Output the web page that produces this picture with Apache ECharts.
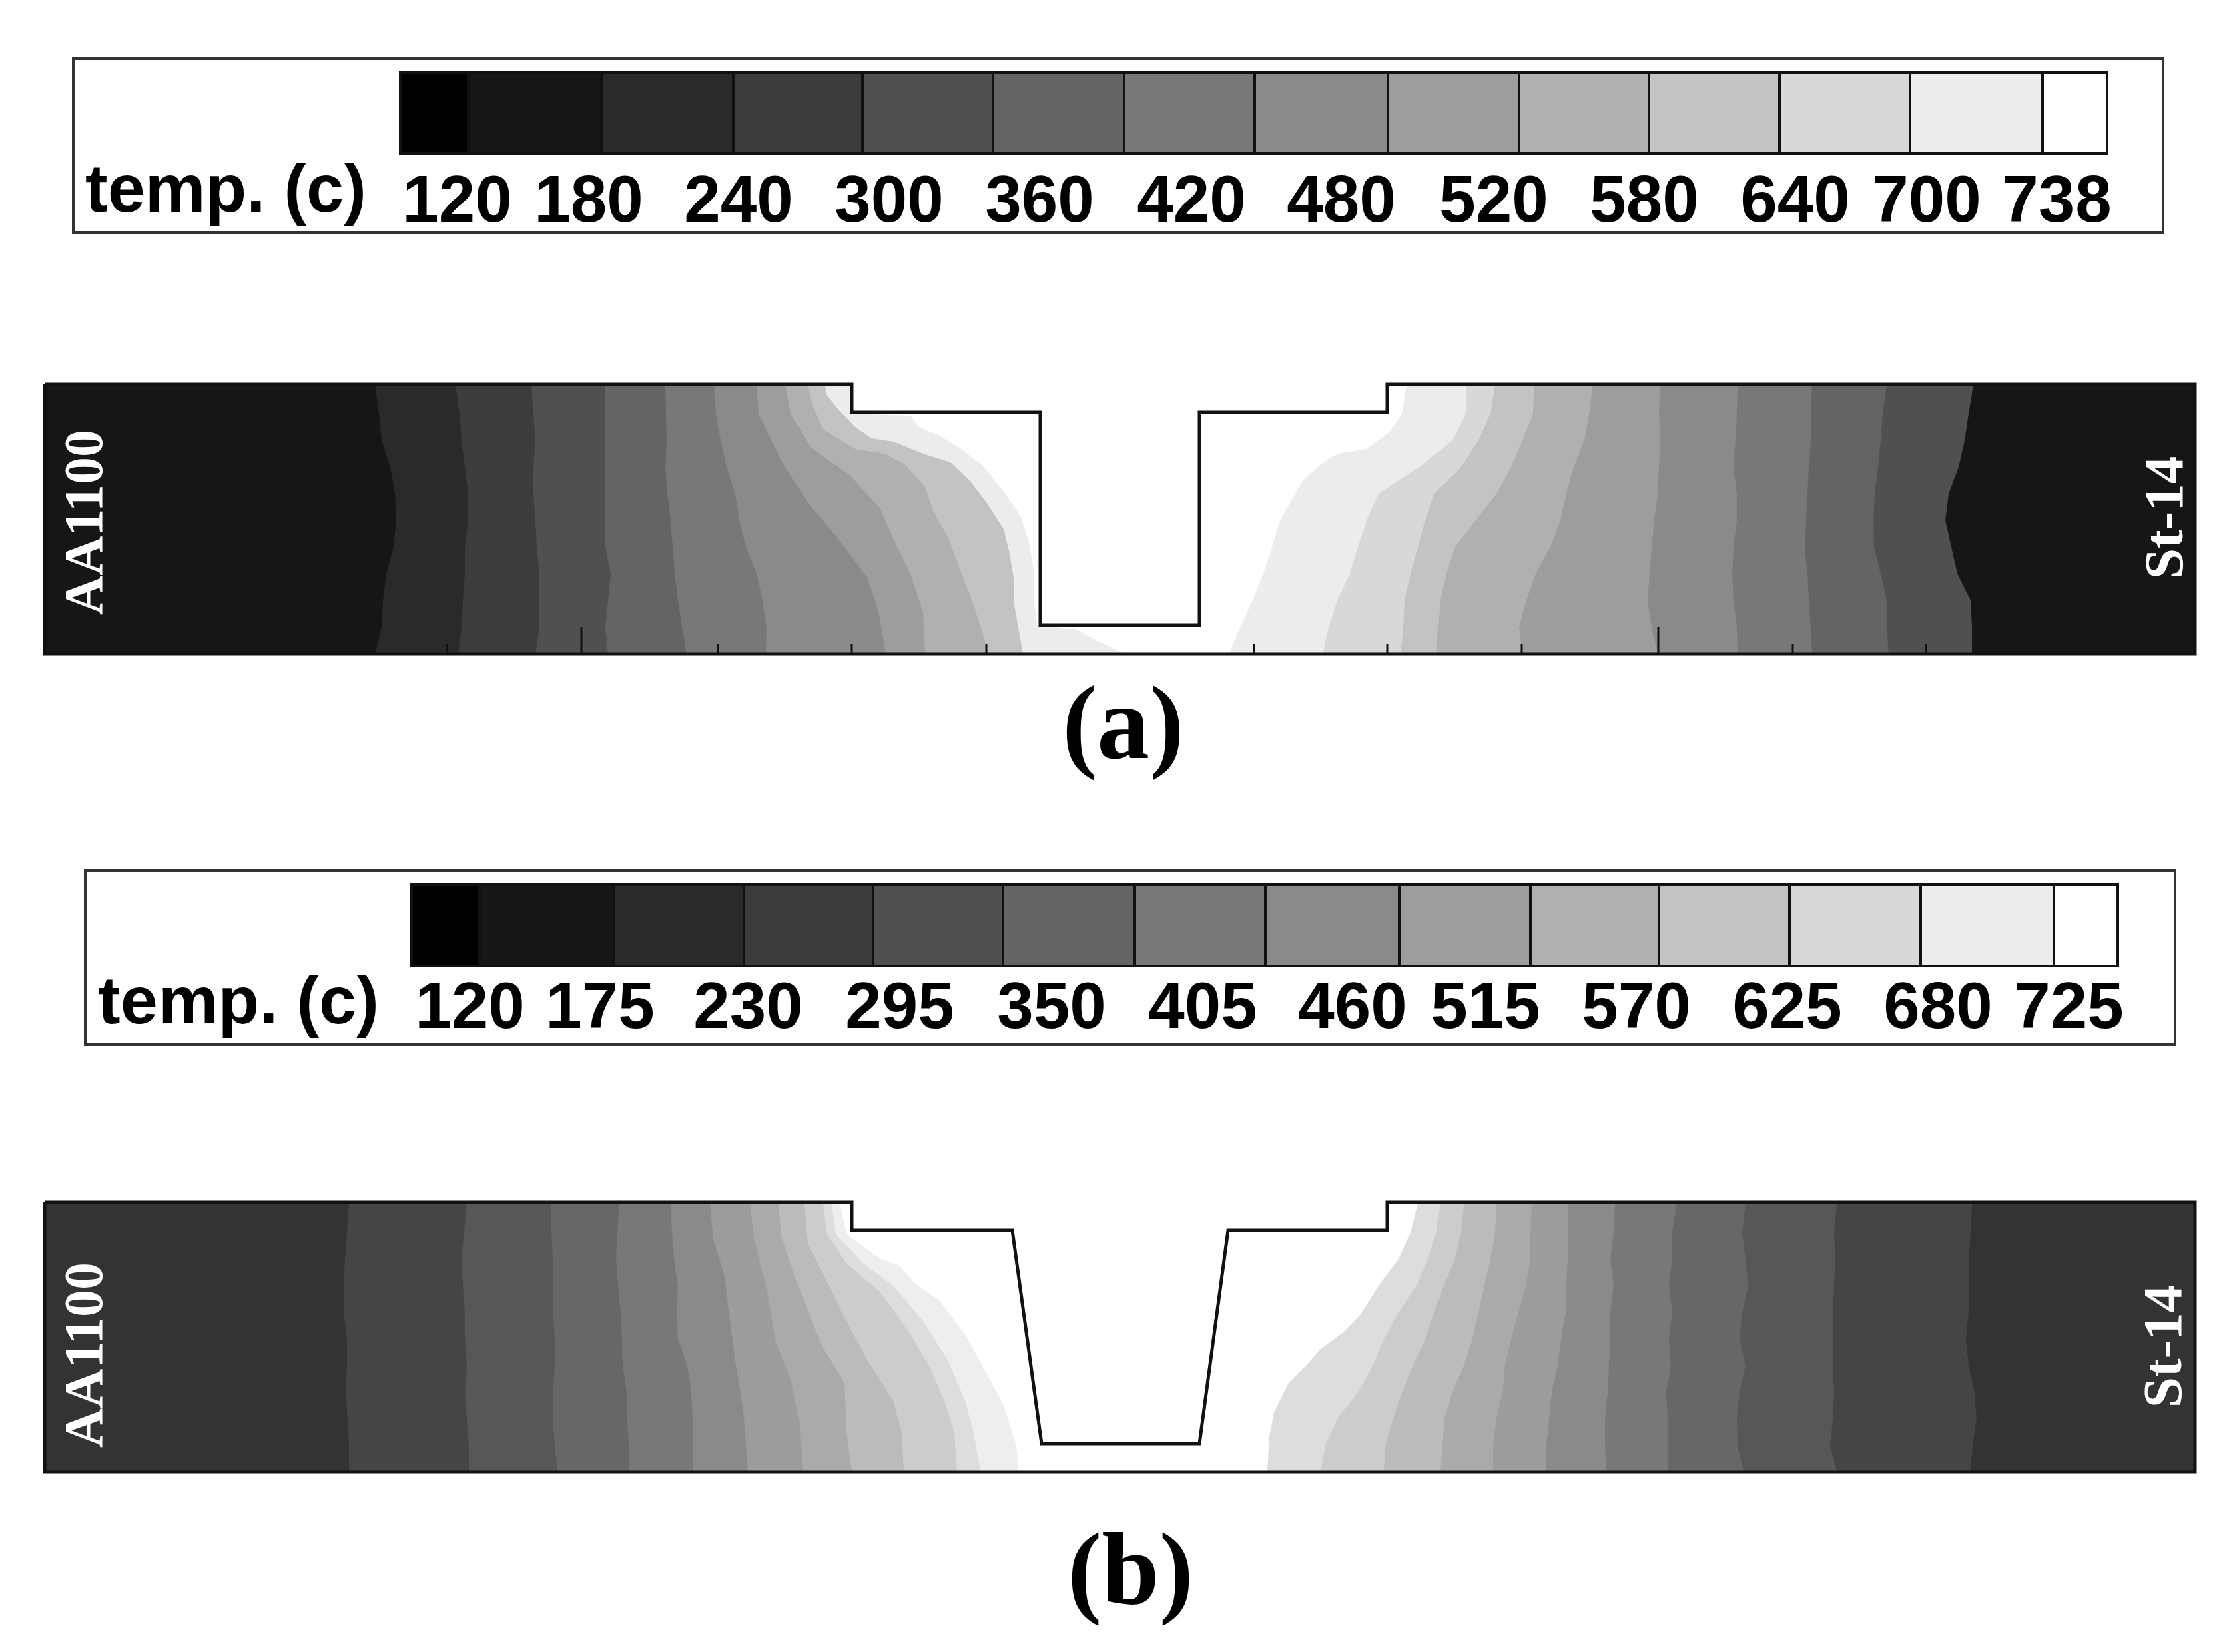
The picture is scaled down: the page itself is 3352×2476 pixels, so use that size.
<!DOCTYPE html>
<html>
<head>
<meta charset="utf-8">
<title>temp. (c)</title>
<style>html,body{margin:0;padding:0;background:#fff}#main{width:3352px;height:2476px}</style>
</head>
<body>
<div id="main"></div>
<script src="https://cdn.jsdelivr.net/npm/echarts@6/dist/echarts.min.js"></script>
<script>
// legend scales
var legendColors = ['#000000','#161616','#2a2a2a','#3c3c3c','#505050','#646464','#787878','#8a8a8a','#9d9d9d','#b0b0b0','#c3c3c3','#d8d8d8','#ececec','#ffffff'];
var aLegendTicks = ['120','180','240','300','360','420','480','520','580','640','700','738'];
var bLegendTicks = ['120','175','230','295','350','405','460','515','570','625','680','725'];
var aLegendTickX = [685,882,1107,1332,1558,1785,2010,2238,2464,2690,2887,3082];
var bLegendTickX = [704,899,1121,1348,1576,1802,2027,2226,2452,2678,2904,3100];
var aLegendEdges = [600,702,901,1099,1292,1488,1684,1880,2080,2276,2471,2666,2862,3061,3157];
var bLegendEdges = [617,719,920,1115,1308,1503,1700,1896,2097,2293,2486,2681,2878,3078,3173];

// part outlines
var aOutline = [[67,576],[1276,576],[1276,618],[1559,618],[1559,937],[1797,937],[1797,618],[2079,618],[2079,576],[3289,576],[3289,980],[67,980],[67,576]];
var bOutline = [[67,1802],[1276,1802],[1276,1844],[1517,1844],[1561,2164],[1797,2164],[1840,1844],[2079,1844],[2079,1802],[3289,1802],[3289,2206],[67,2206],[67,1802]];

// ruler ticks along the lower edge of (a)
var aTicksShort = [670,1076,1276,1478,1879,2079,2280,2686,2886];
var aTicksTall = [871,2485];

// isotherm stations (height)
var aY = [577,620,660,700,740,780,820,860,900,940,980];
var bY = [1804,1847,1887,1927,1967,2007,2047,2087,2127,2167,2204];

// (a) left of the tool
var aLeftColors = ['#161616','#2a2a2a','#3c3c3c','#505050','#646464','#787878','#8a8a8a','#9d9d9d','#b0b0b0','#c3c3c3','#ececec'];
var aL1 = [562,568,572,585,592,594,590,579,574,572,562];
var aL2 = [683,689,692,697,702,702,697,697,694,692,687];
var aL3 = [796,799,802,799,799,802,804,808,808,808,802];
var aL4 = [907,907,907,907,907,906,907,915,911,907,911];
var aL5 = [997,998,999,997,1000,1005,1008,1011,1016,1022,1029];
var aL6 = [1070,1073,1080,1089,1102,1108,1118,1134,1143,1149,1148];
var aL7 = [[1134,577],[1137,620],[1172,693],[1210,753],[1255,807],[1300,867],[1316,917],[1327,980]];
var aL8 = [[1177,577],[1185,620],[1214,670],[1274,713],[1319,763],[1338,807],[1364,860],[1383,917],[1386,980]];
var aL9 = [[1210,577],[1217,607],[1233,643],[1281,673],[1325,680],[1357,697],[1386,730],[1399,767],[1421,807],[1440,857],[1459,907],[1482,980]];
var aL10 = [[1236,577],[1237,590],[1255,613],[1281,640],[1306,657],[1338,662],[1383,680],[1424,693],[1453,720],[1478,753],[1504,793],[1513,830],[1520,873],[1520,907],[1533,980]];
var aL11 = [[1276,577],[1276,620],[1364,623],[1376,640],[1408,653],[1440,673],[1472,697],[1504,737],[1529,773],[1542,813],[1550,860],[1550,907],[1555,938],[1612,943],[1644,960],[1679,977],[1679,980]];

// (a) right of the tool
var aRightColors = ['#161616','#505050','#646464','#787878','#8a8a8a','#9d9d9d','#b0b0b0','#c3c3c3','#d8d8d8','#ececec'];
var aR1 = [2957,2950,2944,2935,2920,2915,2924,2933,2953,2955,2955];
var aR2 = [2827,2821,2818,2814,2809,2807,2808,2818,2827,2827,2830];
var aR3 = [2715,2713,2713,2710,2708,2706,2704,2708,2710,2713,2715];
var aR4 = [2604,2603,2601,2598,2603,2603,2598,2596,2598,2603,2604];
var aR5 = [2488,2486,2488,2486,2484,2479,2475,2472,2469,2475,2484];
var aR6 = [2387,2381,2374,2358,2347,2338,2323,2301,2287,2276,2281];
var aR7 = [2299,2297,2281,2264,2242,2211,2180,2167,2158,2155,2152];
var aR8 = [2240,2233,2215,2189,2149,2136,2125,2114,2105,2103,2099];
var aR9 = [2196,2196,2176,2127,2066,2048,2035,2023,2004,1991,1982];
var aR10 = [[2108,577],[2101,620],[2083,647],[2048,673],[2004,680],[1978,697],[1950,723],[1941,740],[1918,780],[1906,820],[1893,860],[1877,900],[1858,940],[1842,980]];

// (b) left of the tool
var bLeftColors = ['#333333','#454545','#575757','#676767','#787878','#8a8a8a','#9c9c9c','#aaaaaa','#bbbbbb','#cccccc','#dddddd','#eeeeee'];
var bL1 = [523,520,517,515,515,520,520,518,521,523,523];
var bL2 = [699,696,692,694,697,697,700,697,700,703,703];
var bL3 = [826,826,828,828,828,831,831,828,828,831,835];
var bL4 = [928,925,923,926,930,932,933,939,940,942,942];
var bL5 = [1005,1007,1010,1016,1014,1016,1030,1036,1038,1038,1038];
var bL6 = [[1064,1804],[1069,1857],[1086,1913],[1094,1980],[1102,2040],[1114,2113],[1121,2204]];
var bL7 = [[1124,1804],[1131,1860],[1150,1937],[1163,2013],[1185,2067],[1198,2133],[1203,2204]];
var bL8 = [[1167,1804],[1171,1853],[1191,1913],[1220,1990],[1233,2020],[1265,2073],[1268,2147],[1276,2204]];
var bL9 = [[1205,1804],[1210,1863],[1230,1903],[1261,1967],[1300,2040],[1338,2100],[1351,2147],[1354,2204]];
var bL10 = [[1233,1804],[1239,1850],[1268,1893],[1319,1937],[1364,2000],[1395,2053],[1415,2100],[1430,2147],[1434,2204]];
var bL11 = [[1246,1804],[1252,1850],[1293,1893],[1338,1927],[1383,1980],[1421,2040],[1446,2100],[1459,2147],[1469,2204]];
var bL12 = [[1258,1804],[1268,1850],[1319,1887],[1348,1897],[1370,1923],[1408,1950],[1446,2000],[1472,2047],[1504,2107],[1523,2167],[1526,2204]];

// (b) right of the tool
var bRightColors = ['#333333','#454545','#575757','#676767','#787878','#8a8a8a','#9c9c9c','#aaaaaa','#bbbbbb','#cccccc','#dddddd'];
var bR1 = [2955,2953,2950,2950,2950,2946,2950,2959,2962,2956,2953];
var bR2 = [2752,2748,2750,2748,2746,2746,2746,2748,2746,2742,2752];
var bR3 = [2616,2611,2616,2620,2611,2607,2616,2607,2603,2604,2613];
var bR4 = [2513,2506,2506,2501,2506,2501,2504,2497,2499,2499,2499];
var bR5 = [2420,2418,2413,2418,2413,2413,2411,2409,2405,2405,2407];
var bR6 = [2350,2349,2349,2347,2346,2339,2334,2325,2321,2317,2317];
var bR7 = [2295,2293,2293,2286,2275,2264,2255,2251,2242,2237,2237];
var bR8 = [2242,2240,2233,2224,2215,2206,2193,2176,2164,2161,2158];
var bR9 = [2193,2189,2180,2163,2149,2136,2118,2101,2088,2076,2074];
var bR10 = [2158,2152,2140,2123,2096,2074,2057,2035,2004,1986,1979];
var bR11 = [[2125,1804],[2114,1847],[2096,1887],[2066,1927],[2039,1970],[2013,1997],[1978,2023],[1957,2047],[1931,2073],[1909,2117],[1902,2153],[1899,2204]];

function withY(xs, ys) {
    return xs.map(function (x, i) { return [x, ys[i]]; });
}

var aLeftLines = [aL1,aL2,aL3,aL4,aL5,aL6].map(function (l) { return withY(l, aY); }).concat([aL7,aL8,aL9,aL10,aL11]);
var aRightLines = [aR1,aR2,aR3,aR4,aR5,aR6,aR7,aR8,aR9].map(function (l) { return withY(l, aY); }).concat([aR10]);
var bLeftLines = [bL1,bL2,bL3,bL4,bL5].map(function (l) { return withY(l, bY); }).concat([bL6,bL7,bL8,bL9,bL10,bL11,bL12]);
var bRightLines = [bR1,bR2,bR3,bR4,bR5,bR6,bR7,bR8,bR9,bR10].map(function (l) { return withY(l, bY); }).concat([bR11]);

// every band is filled from the plate edge up to its isotherm, lightest first
function bandSeries(gridIndex, lines, colors, edgeX, z) {
    return {
        type: 'custom',
        xAxisIndex: gridIndex,
        yAxisIndex: gridIndex,
        z: z,
        silent: true,
        data: lines.map(function (l, i) { return [lines.length - 1 - i]; }),
        renderItem: function (params, api) {
            var k = api.value(0);
            var line = lines[k];
            var pts = [[edgeX, line[0][1]]].concat(line, [[edgeX, line[line.length - 1][1]]]);
            return {
                type: 'polygon',
                shape: { points: pts.map(function (p) { return api.coord(p); }) },
                style: { fill: colors[k] }
            };
        }
    };
}

function outlineSeries(gridIndex, points) {
    return {
        type: 'line',
        xAxisIndex: gridIndex,
        yAxisIndex: gridIndex,
        z: 5,
        silent: true,
        symbol: 'none',
        data: points,
        lineStyle: { color: '#111111', width: 5, join: 'miter' }
    };
}

function tickSeries(gridIndex, xs, bottom, len) {
    return {
        type: 'custom',
        xAxisIndex: gridIndex,
        yAxisIndex: gridIndex,
        z: 6,
        silent: true,
        data: xs.map(function (x) { return [x]; }),
        renderItem: function (params, api) {
            var p0 = api.coord([api.value(0), bottom]);
            var p1 = api.coord([api.value(0), bottom - len]);
            return {
                type: 'line',
                shape: { x1: p0[0], y1: p0[1], x2: p1[0], y2: p1[1] },
                style: { stroke: '#111111', lineWidth: 3 }
            };
        }
    };
}

function legendCells(gridIndex, edges, top, bottom) {
    return {
        type: 'custom',
        xAxisIndex: gridIndex,
        yAxisIndex: gridIndex,
        z: 3,
        silent: true,
        data: legendColors.map(function (c, i) { return [edges[i], edges[i + 1]]; }),
        renderItem: function (params, api) {
            var p0 = api.coord([api.value(0), top]);
            var p1 = api.coord([api.value(1), bottom]);
            return {
                type: 'rect',
                shape: { x: p0[0], y: p0[1], width: p1[0] - p0[0], height: p1[1] - p0[1] },
                style: { fill: legendColors[params.dataIndex], stroke: '#111111', lineWidth: 4 }
            };
        }
    };
}

function textSeries(gridIndex, items, font) {
    return {
        type: 'scatter',
        xAxisIndex: gridIndex,
        yAxisIndex: gridIndex,
        z: 8,
        silent: true,
        symbolSize: 0,
        itemStyle: { opacity: 1 },
        data: items.map(function (t) {
            return {
                value: [t.x, t.y],
                label: {
                    show: true, position: 'inside', formatter: t.text, rotate: t.rotate || 0,
                    color: t.color || '#000000', align: t.align || 'center', verticalAlign: 'middle',
                    fontFamily: font, fontWeight: 'bold', fontSize: t.size
                }
            };
        })
    };
}

function legendTickItems(ticks, xs, y) {
    return ticks.map(function (t, i) { return { text: t, x: xs[i], y: y, size: 98 }; });
}

function axisPair(idx, xr, yr) {
    return {
        x: { type: 'value', gridIndex: idx, show: false, min: xr[0], max: xr[1] },
        y: { type: 'value', gridIndex: idx, show: false, inverse: true, min: yr[0], max: yr[1] }
    };
}

var frames = [
    { left: 110, right: 3241, top: 88, bottom: 348, box: true },
    { left: 66, right: 3289, top: 574, bottom: 982 },
    { left: 128, right: 3259, top: 1305, bottom: 1565, box: true },
    { left: 66, right: 3289, top: 1800, bottom: 2208 }
];
var axes = frames.map(function (f, i) { return axisPair(i, [f.left, f.right], [f.top, f.bottom]); });

var series = [
    legendCells(0, aLegendEdges, 109, 230),
    textSeries(0, legendTickItems(aLegendTicks, aLegendTickX, 305).concat([{ text: 'temp. (c)', x: 128, y: 289, size: 101, align: 'left' }]), '"Liberation Sans"'),
    bandSeries(1, aRightLines, aRightColors, 3289, 2),
    bandSeries(1, aLeftLines, aLeftColors, 67, 2),
    outlineSeries(1, aOutline),
    tickSeries(1, aTicksShort, 980, 15),
    tickSeries(1, aTicksTall, 980, 40),
    textSeries(1, [
        { text: 'AA1100', x: 132, y: 783, size: 82, rotate: 90, color: '#ffffff' },
        { text: 'St-14', x: 3249, y: 776, size: 83, rotate: 90, color: '#ffffff' }
    ], '"Liberation Serif"'),
    legendCells(2, bLegendEdges, 1326, 1448),
    textSeries(2, legendTickItems(bLegendTicks, bLegendTickX, 1514).concat([{ text: 'temp. (c)', x: 147, y: 1506, size: 101, align: 'left' }]), '"Liberation Sans"'),
    bandSeries(3, bRightLines, bRightColors, 3289, 2),
    bandSeries(3, bLeftLines, bLeftColors, 67, 2),
    outlineSeries(3, bOutline),
    textSeries(3, [
        { text: 'AA1100', x: 132, y: 2031, size: 82, rotate: 90, color: '#ffffff' },
        { text: 'St-14', x: 3247, y: 2018, size: 83, rotate: 90, color: '#ffffff' }
    ], '"Liberation Serif"')
];

var myChart = echarts.init(document.getElementById('main'), null, { renderer: 'canvas', width: 3352, height: 2476 });
myChart.setOption({
    animation: false,
    backgroundColor: '#ffffff',
    grid: frames.map(function (f) {
        return {
            left: f.left, top: f.top, width: f.right - f.left, height: f.bottom - f.top,
            show: !!f.box, backgroundColor: '#ffffff', borderColor: '#333333', borderWidth: f.box ? 4 : 0
        };
    }),
    xAxis: axes.map(function (a) { return a.x; }),
    yAxis: axes.map(function (a) { return a.y; }),
    series: series,
    graphic: [
        { type: 'text', z: 10, style: { text: '(a)', x: 1683, y: 1096, textAlign: 'center', textVerticalAlign: 'middle', fill: '#000000', font: 'bold 156px "Liberation Serif"' } },
        { type: 'text', z: 10, style: { text: '(b)', x: 1694, y: 2364, textAlign: 'center', textVerticalAlign: 'middle', fill: '#000000', font: 'bold 154px "Liberation Serif"' } }
    ]
});
</script>
</body>
</html>
